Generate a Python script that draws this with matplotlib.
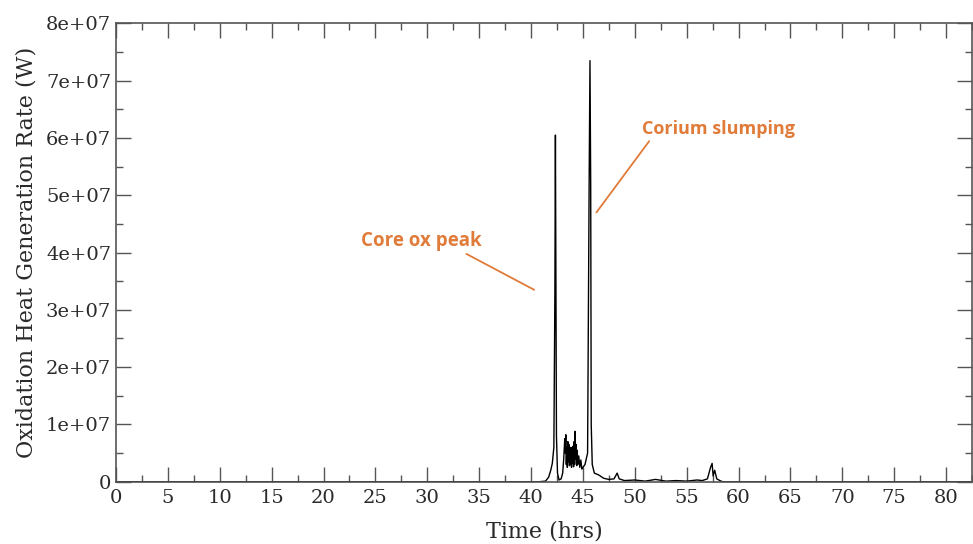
import matplotlib
matplotlib.use("Agg")
import matplotlib.pyplot as plt
from matplotlib.ticker import MultipleLocator, FuncFormatter

# Oxidation heat generation rate vs time
time_hrs = [
    0.0, 40.8, 41.4, 41.7, 41.9, 42.05, 42.2, 42.3, 42.35, 42.4, 42.45, 42.55,
    42.7, 42.9, 43.05, 43.15, 43.25, 43.3, 43.35, 43.4, 43.45, 43.5, 43.55,
    43.6, 43.65, 43.7, 43.75, 43.8, 43.85, 43.9, 43.95, 44.0, 44.05, 44.1,
    44.15, 44.2, 44.25, 44.3, 44.35, 44.4, 44.45, 44.5, 44.6, 44.7, 44.8,
    44.9, 45.0, 45.2, 45.45, 45.6, 45.68, 45.75, 45.8, 45.9, 46.1, 46.5,
    47.0, 47.5, 48.0, 48.3, 48.5, 49.0, 50.0, 51.0, 52.0, 53.0, 54.0, 55.0,
    56.0, 56.5, 57.0, 57.3, 57.45, 57.55, 57.7, 57.9, 58.3, 58.5, 82.5,
]
heat_rate_w = [
    0.0, 0.0, 0.1e6, 0.8e6, 2.0e6, 3.2e6, 6.0e6, 33.5e6, 60.5e6, 34.0e6, 8.0e6, 1.5e6,
    0.3e6, 0.5e6, 1.5e6, 4.0e6, 7.5e6, 5.0e6, 8.2e6, 3.0e6, 6.0e6, 2.5e6, 7.0e6,
    3.5e6, 6.5e6, 2.8e6, 5.5e6, 3.0e6, 6.0e6, 2.5e6, 5.0e6, 3.2e6, 6.2e6, 2.6e6,
    7.0e6, 3.0e6, 8.8e6, 4.0e6, 6.5e6, 2.8e6, 5.5e6, 3.0e6, 4.5e6, 2.5e6, 3.8e6,
    2.2e6, 2.5e6, 3.0e6, 5.0e6, 52.0e6, 73.5e6, 52.0e6, 10.0e6, 3.0e6, 1.5e6, 1.2e6,
    0.6e6, 0.4e6, 0.5e6, 1.5e6, 0.5e6, 0.2e6, 0.3e6, 0.1e6, 0.4e6, 0.1e6, 0.2e6, 0.1e6,
    0.3e6, 0.2e6, 0.5e6, 2.5e6, 3.2e6, 1.0e6, 2.0e6, 0.5e6, 0.1e6, 0.0, 0.0,
]

x_ticks = list(range(0, 85, 5))
y_ticks = [0, 1e7, 2e7, 3e7, 4e7, 5e7, 6e7, 7e7, 8e7]


def sci_fmt(v, pos):
    if v == 0:
        return "0"
    return f"{v:.0e}"


fig = plt.figure(figsize=(9.73, 5.44), dpi=100)
ax = fig.add_axes([0.1192, 0.1145, 0.8798, 0.8425])

ax.plot(time_hrs, heat_rate_w, color="black", linewidth=1.0)

ax.set_xlim(0, 82.5)
ax.set_ylim(0, 8e7)
ax.set_xticks(x_ticks)
ax.set_yticks(y_ticks)
ax.xaxis.set_minor_locator(MultipleLocator(2.5))
ax.yaxis.set_minor_locator(MultipleLocator(5e6))
ax.yaxis.set_major_formatter(FuncFormatter(sci_fmt))

ax.tick_params(which="both", direction="in", top=True, right=True,
               color="#555555", labelsize=14, labelcolor="#2a2a2a")
ax.tick_params(which="major", length=11, width=1)
ax.tick_params(which="minor", length=5, width=1)
ax.tick_params(axis="x", pad=5)
for lbl in ax.get_xticklabels() + ax.get_yticklabels():
    lbl.set_family("DejaVu Serif")
for s in ax.spines.values():
    s.set_color("#555555")
    s.set_linewidth(1.2)

ax.set_xlabel("Time (hrs)", fontsize=16, family="DejaVu Serif", color="#2a2a2a",
              labelpad=10)
ax.set_ylabel("Oxidation Heat Generation Rate (W)", fontsize=16,
              family="DejaVu Serif", color="#2a2a2a", labelpad=6)

orange = "#E07B39"
ax.annotate("Core ox peak", xy=(40.3, 3.35e7), xytext=(23.6, 4.2e7),
            color=orange, fontsize=13.5, fontweight="bold", family="Open Sans",
            va="center", ha="left",
            arrowprops=dict(arrowstyle="-", color=orange, lw=1.3,
                            shrinkA=0, shrinkB=0,
                            relpos=(0.83, 0.0)))
ax.annotate("Corium slumping", xy=(46.3, 4.7e7), xytext=(50.7, 6.15e7),
            color=orange, fontsize=13, fontweight="bold", family="Open Sans",
            va="center", ha="left",
            arrowprops=dict(arrowstyle="-", color=orange, lw=1.3,
                            shrinkA=0, shrinkB=0,
                            relpos=(0.06, 0.0)))

fig.savefig("out.png", dpi=100)
plt.close(fig)
